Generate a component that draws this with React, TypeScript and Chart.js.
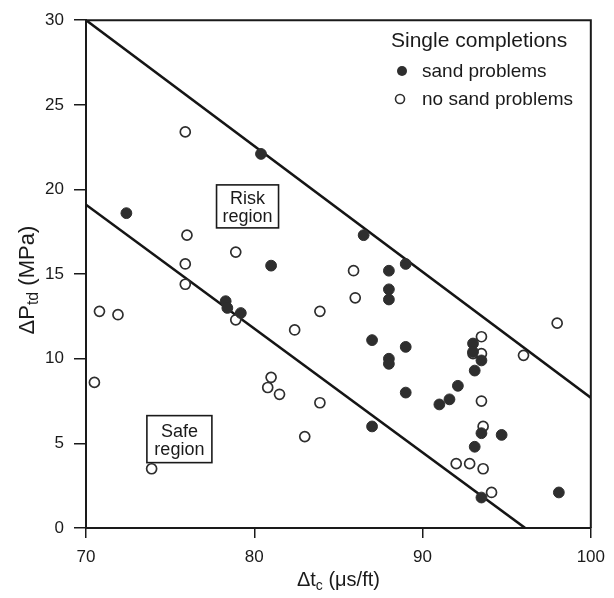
import { useEffect, useRef } from 'react';
import { Chart, registerables } from 'chart.js';

Chart.register(...registerables);

// ---- data ----
const sandX = [72.4, 80.4, 81.0, 78.3, 78.4, 79.2, 86.5, 89.0, 88.0, 88.0, 88.0, 87.0, 89.0, 88.0, 88.0, 89.0, 92.1, 87.0, 93.0, 93.0, 93.5, 93.1, 91.0, 91.6, 93.5, 94.7, 93.1, 93.5, 98.1];
const sandY = [18.6, 22.1, 15.5, 13.4, 13.0, 12.7, 17.3, 15.6, 15.2, 14.1, 13.5, 11.1, 10.7, 10.0, 9.7, 8.0, 8.4, 6.0, 10.9, 10.4, 9.9, 9.3, 7.3, 7.6, 5.6, 5.5, 4.8, 1.8, 2.1];
const noSandX = [75.9, 76.0, 75.9, 75.9, 78.9, 70.8, 71.9, 70.5, 73.9, 78.9, 82.4, 83.9, 81.0, 80.8, 81.5, 83.0, 83.9, 85.9, 86.0, 98.0, 93.5, 93.0, 93.5, 96.0, 93.5, 93.6, 92.0, 92.8, 93.6, 94.1];
const noSandY = [23.4, 17.3, 15.6, 14.4, 16.3, 12.8, 12.6, 8.6, 3.5, 12.3, 11.7, 12.8, 8.9, 8.3, 7.9, 5.4, 7.4, 15.2, 13.6, 12.1, 11.3, 10.3, 10.3, 10.2, 7.5, 6.0, 3.8, 3.8, 3.5, 2.1];
const upperLineX = [70, 100];
const upperLineY = [30, 7.7];
const lowerLineX = [70, 96.1];
const lowerLineY = [19.1, 0];
const xTicks = [70, 80, 90, 100];
const yTicks = [0, 5, 10, 15, 20, 25, 30];
const legendTitle = 'Single completions';
const seriesLabels = ['sand problems', 'no sand problems'];
const riskLabel = ['Risk', 'region'];
const safeLabel = ['Safe', 'region'];
const yTitleParts = [['ΔP', false], ['td', true], [' (MPa)', false]] as [string, boolean][];
const xTitleParts = [['Δt', false], ['c', true], [' (μs/ft)', false]] as [string, boolean][];

// ---- styles / layout constants ----
const FONT = '"Liberation Sans", Arial, Helvetica, sans-serif';
const INK = '#1a1a1a';
const DOT = '#2e2e2e';
const riskBox = { cx: 79.6, cy: 19.0, w: 62, h: 43 };
const safeBox = { cx: 75.55, cy: 5.25, w: 65, h: 47 };

const pts = (xs: number[], ys: number[]) => xs.map((x, i) => ({ x, y: ys[i] }));

function drawParts(ctx: CanvasRenderingContext2D, parts: [string, boolean][], size: number) {
  const subSize = Math.round(size * 0.72);
  let total = 0;
  const widths = parts.map(([t, sub]) => {
    ctx.font = `${sub ? subSize : size}px ${FONT}`;
    const w = ctx.measureText(t).width;
    total += w;
    return w;
  });
  let x = -total / 2;
  parts.forEach(([t, sub], i) => {
    ctx.font = `${sub ? subSize : size}px ${FONT}`;
    ctx.fillText(t, x, sub ? 4 : 0);
    x += widths[i];
  });
}

const decorPlugin = {
  id: 'decor',
  afterDraw(chart: any) {
    const { ctx, chartArea, scales } = chart;
    const xs = scales.x;
    const ys = scales.y;
    ctx.save();
    // frame top & right
    ctx.strokeStyle = INK;
    ctx.lineWidth = 2;
    ctx.beginPath();
    ctx.moveTo(chartArea.left, chartArea.top);
    ctx.lineTo(chartArea.right, chartArea.top);
    ctx.lineTo(chartArea.right, chartArea.bottom);
    ctx.stroke();

    // region boxes
    const boxes: [typeof riskBox, string[]][] = [[riskBox, riskLabel], [safeBox, safeLabel]];
    boxes.forEach(([b, lines]) => {
      const cx = xs.getPixelForValue(b.cx);
      const cy = ys.getPixelForValue(b.cy);
      ctx.fillStyle = '#fff';
      ctx.fillRect(cx - b.w / 2, cy - b.h / 2, b.w, b.h);
      ctx.lineWidth = 1.6;
      ctx.strokeStyle = INK;
      ctx.strokeRect(cx - b.w / 2, cy - b.h / 2, b.w, b.h);
      ctx.fillStyle = INK;
      ctx.font = `18px ${FONT}`;
      ctx.textAlign = 'center';
      ctx.textBaseline = 'alphabetic';
      ctx.fillText(lines[0], cx, cy - 2);
      ctx.fillText(lines[1], cx, cy + 16);
    });

    // legend
    ctx.fillStyle = INK;
    ctx.textAlign = 'left';
    ctx.textBaseline = 'alphabetic';
    ctx.font = `21px ${FONT}`;
    ctx.fillText(legendTitle, 391, 47);
    ctx.font = `19px ${FONT}`;
    ctx.fillText(seriesLabels[0], 422, 77);
    ctx.fillText(seriesLabels[1], 422, 105);
    ctx.beginPath();
    ctx.arc(402, 71, 5, 0, Math.PI * 2);
    ctx.fillStyle = DOT;
    ctx.fill();
    ctx.beginPath();
    ctx.arc(400, 99, 4.5, 0, Math.PI * 2);
    ctx.fillStyle = '#fff';
    ctx.fill();
    ctx.lineWidth = 1.6;
    ctx.strokeStyle = DOT;
    ctx.stroke();

    // axis titles
    ctx.fillStyle = INK;
    ctx.textAlign = 'left';
    ctx.textBaseline = 'alphabetic';
    ctx.save();
    ctx.translate(34, (chartArea.top + chartArea.bottom) / 2 + 6);
    ctx.rotate(-Math.PI / 2);
    drawParts(ctx, yTitleParts, 22);
    ctx.restore();
    ctx.save();
    ctx.translate((chartArea.left + chartArea.right) / 2, 586);
    drawParts(ctx, xTitleParts, 20);
    ctx.restore();

    ctx.restore();
  },
};

export default function App() {
  const ref = useRef<HTMLCanvasElement | null>(null);
  useEffect(() => {
    if (!ref.current) return;
    const chart = new Chart(ref.current, {
      type: 'scatter',
      data: {
        datasets: [
          {
            label: seriesLabels[0],
            data: pts(sandX, sandY),
            pointRadius: 5.4,
            pointBackgroundColor: DOT,
            pointBorderColor: DOT,
            pointBorderWidth: 1,
          },
          {
            label: seriesLabels[1],
            data: pts(noSandX, noSandY),
            pointRadius: 5,
            pointBackgroundColor: '#fff',
            pointBorderColor: DOT,
            pointBorderWidth: 1.7,
          },
          {
            label: 'upper',
            data: pts(upperLineX, upperLineY),
            showLine: true,
            pointRadius: 0,
            borderColor: '#151515',
            borderWidth: 2.6,
          },
          {
            label: 'lower',
            data: pts(lowerLineX, lowerLineY),
            showLine: true,
            pointRadius: 0,
            borderColor: '#151515',
            borderWidth: 2.6,
          },
        ],
      } as any,
      options: {
        animation: false,
        responsive: true,
        maintainAspectRatio: false,
        devicePixelRatio: 1,
        layout: { padding: { top: 16, right: 17, left: 0, bottom: 0 } },
        plugins: { legend: { display: false }, tooltip: { enabled: false } },
        scales: {
          x: {
            type: 'linear',
            position: 'bottom',
            min: 70,
            max: 100,
            afterBuildTicks: (s: any) => { s.ticks = xTicks.map((v) => ({ value: v })); },
            afterFit: (s: any) => { s.height = 70; },
            border: { display: true, color: INK, width: 2 },
            grid: { display: true, drawOnChartArea: false, drawTicks: true, tickLength: 10, color: INK, lineWidth: 1.5 },
            ticks: { color: INK, font: { family: FONT, size: 17 }, padding: 9, maxRotation: 0 },
          },
          y: {
            type: 'linear',
            position: 'left',
            min: 0,
            max: 30,
            afterBuildTicks: (s: any) => { s.ticks = yTicks.map((v) => ({ value: v })); },
            afterFit: (s: any) => { s.width = 86; },
            border: { display: true, color: INK, width: 2 },
            grid: { display: true, drawOnChartArea: false, drawTicks: true, tickLength: 12, color: INK, lineWidth: 1.5 },
            ticks: { color: INK, font: { family: FONT, size: 17 }, padding: 10 },
          },
        },
      } as any,
      plugins: [decorPlugin],
    });
    return () => chart.destroy();
  }, []);
  return (
    <div style={{ position: 'fixed', left: 0, top: 0, width: 614, height: 598, background: '#fff' }}>
      <canvas ref={ref} />
    </div>
  );
}
